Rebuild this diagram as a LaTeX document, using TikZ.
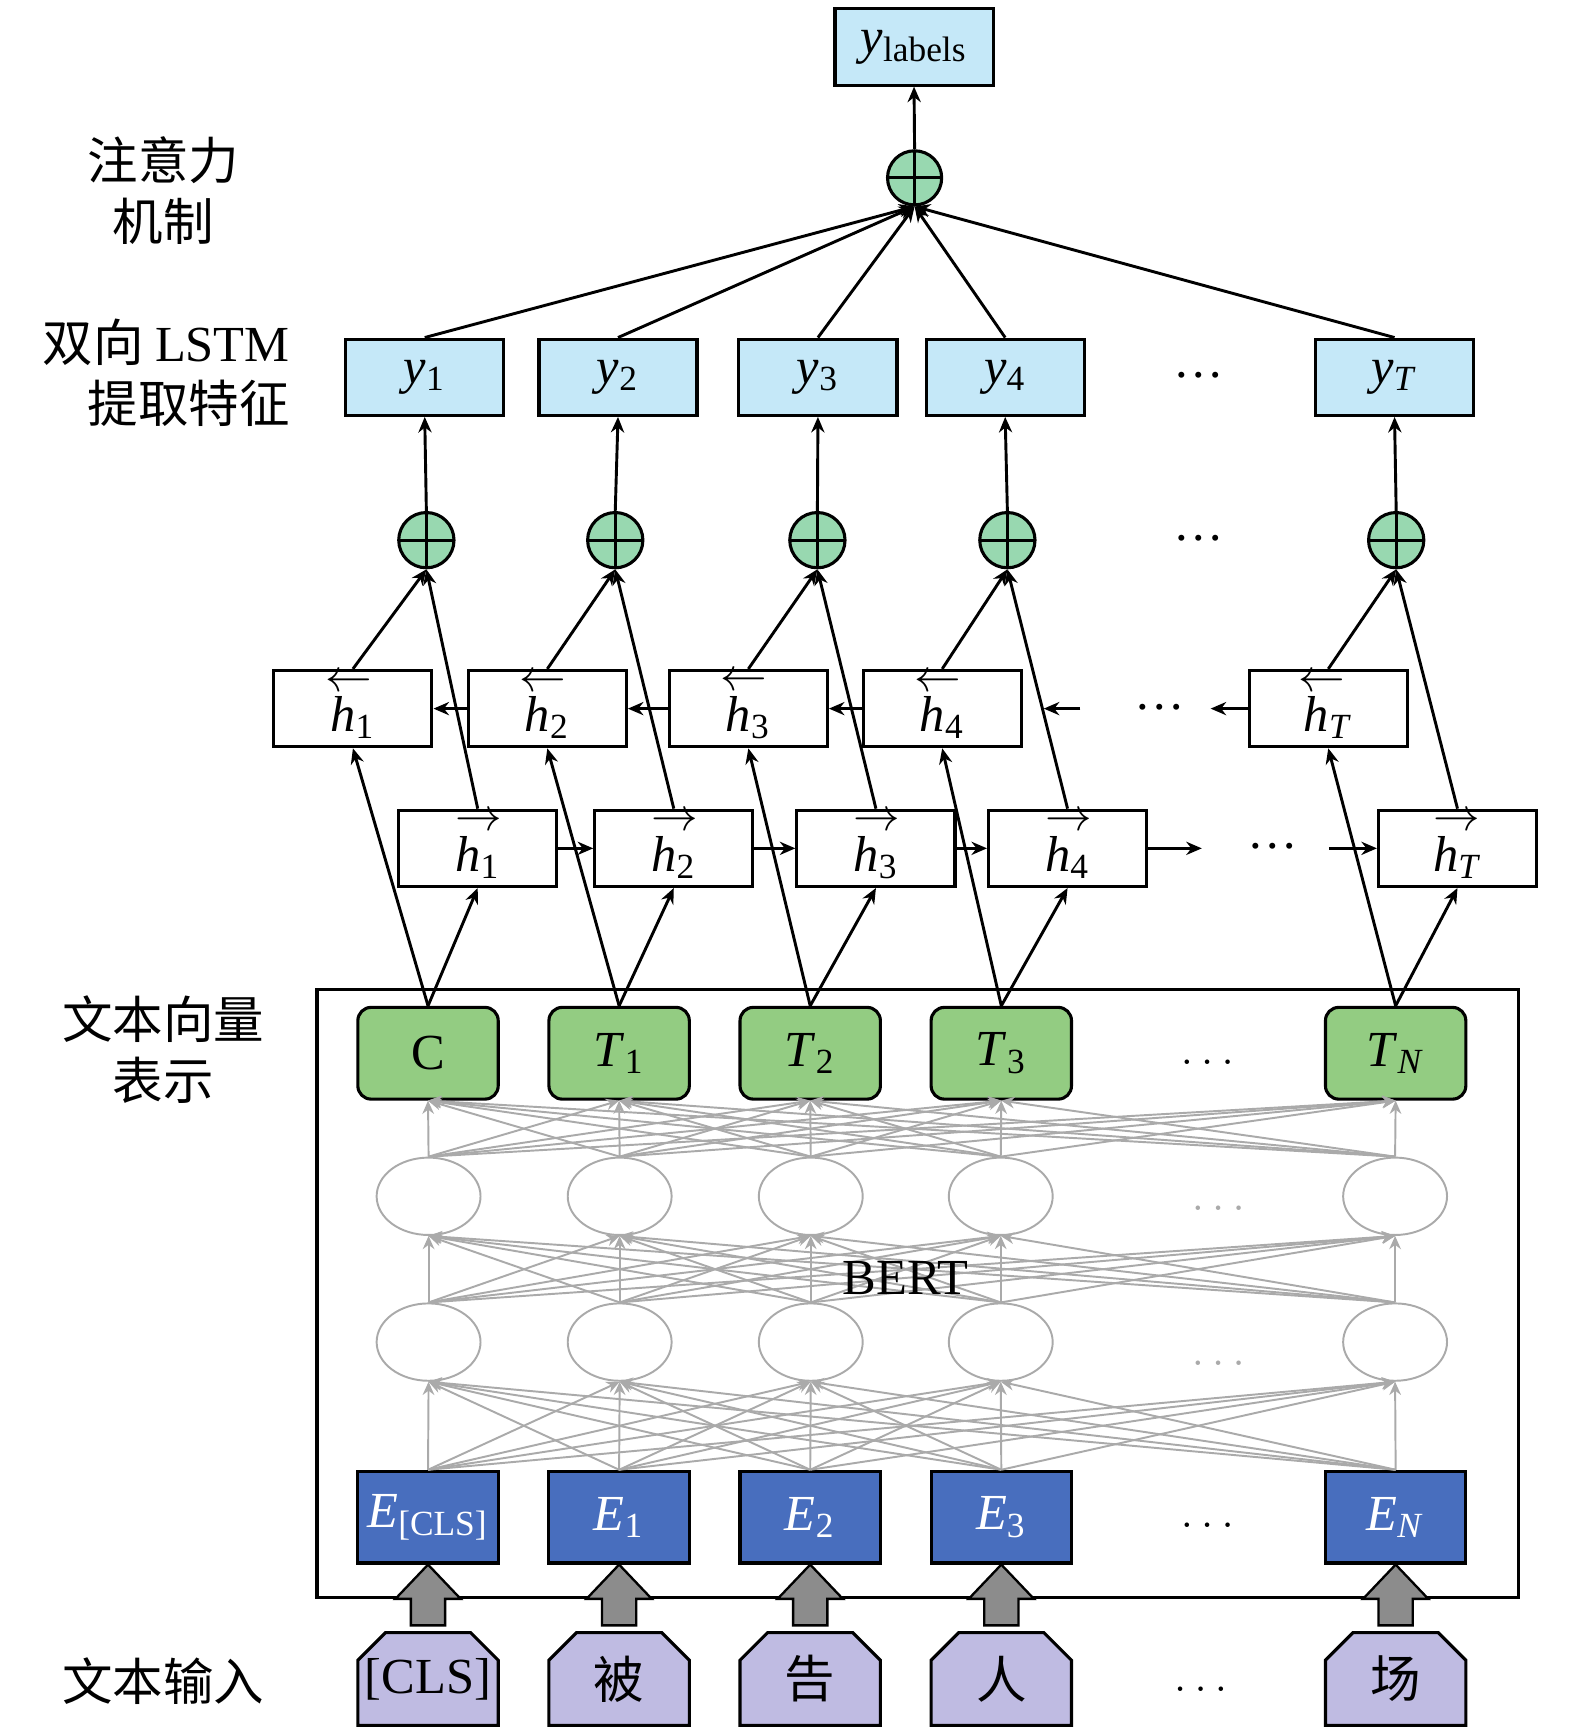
\documentclass[tikz,border=0pt]{standalone}
\usepackage{fontspec}
\setmainfont{Liberation Serif}
\newfontfamily\cjk{Noto Sans CJK SC}
\usetikzlibrary{arrows.meta,shapes.geometric,shapes.misc,calc}

\definecolor{ylblue}{RGB}{197,232,248}
\definecolor{opgreen}{RGB}{152,216,176}
\definecolor{tgreen}{RGB}{147,204,130}
\definecolor{eblue}{RGB}{72,110,190}
\definecolor{inlav}{RGB}{191,187,226}
\definecolor{nngray}{RGB}{170,170,170}
\definecolor{fatgray}{RGB}{140,140,140}

\newcommand{\vsub}[2]{\textit{#1}\textsubscript{#2}}
\newcommand{\hfw}[1]{\rlap{\raisebox{0.8em}[1.05em][0pt]{$\rightarrow$}}\vsub{h}{#1}}
\newcommand{\hbw}[1]{\rlap{\kern-0.1em\raisebox{0.8em}[1.05em][0pt]{$\leftarrow$}}\vsub{h}{#1}}

\tikzset{
  txt/.style={font=\fontsize{13}{15.6}\selectfont},
  lbl/.style={font=\cjk\fontsize{13}{15.6}\selectfont, align=center, inner sep=0pt},
  ybox/.style={txt, draw, line width=0.8pt, fill=ylblue, minimum width=1.43cm, minimum height=0.69cm, inner sep=0pt},
  hbox/.style={txt, draw, line width=0.8pt, fill=white, minimum width=1.43cm, minimum height=0.69cm, inner sep=0pt},
  tbox/.style={txt, draw, line width=0.8pt, fill=tgreen, rounded corners=0.12cm, minimum width=1.27cm, minimum height=0.83cm, inner sep=0pt},
  ebox/.style={txt, draw, line width=0.8pt, fill=eblue, text=white, minimum width=1.27cm, minimum height=0.83cm, inner sep=0pt},
  inbox/.style={txt, draw, line width=0.8pt, fill=inlav, chamfered rectangle, chamfered rectangle corners={north west,north east}, chamfered rectangle xsep=0.11cm, chamfered rectangle ysep=0.14cm, minimum width=1.27cm, minimum height=0.84cm, inner sep=0pt},
  oplus/.style={circle, draw, line width=0.8pt, fill=opgreen, minimum size=0.5cm, inner sep=0pt,
    path picture={\draw[line width=0.8pt] (path picture bounding box.north) -- (path picture bounding box.south)
      (path picture bounding box.west) -- (path picture bounding box.east);}},
  neuron/.style={ellipse, draw=nngray, line width=0.5pt, minimum width=0.94cm, minimum height=0.70cm},
  arr/.style={-{Stealth[length=4pt,width=3.4pt]}, line width=0.75pt},
  nnarr/.style={-{Stealth[length=3.4pt,width=3pt]}, draw=nngray, line width=0.5pt},
  fatarrow/.style={draw, line width=0.6pt, fill=fatgray},
}

\begin{document}
\begin{tikzpicture}[x=0.01cm,y=-0.01cm]
  \useasboundingbox (0,0) rectangle (1426,1568);

  % left side captions
  \node[lbl] (l-att) at (148,172.5) {注意力\\机制};
  \node[lbl, align=right, anchor=east] (l-lstm) at (263,337.5) {双向 {\rmfamily LSTM}\\提取特征};
  \node[lbl] (l-vec) at (148,950) {文本向量\\表示};
  \node[lbl] (l-in) at (148,1522) {文本输入};

  % attention and outputs
  \node[ybox] (ylab) at (827.5,42.5) {\vsub{y}{labels}};
  \node[oplus, minimum size=0.49cm] (att) at (828,161) {};
  \foreach \i/\x/\s in {1/384.5/1,2/559.5/2,3/740.5/3,4/910/4,5/1262.5/{\textit{T}}}
    \node[ybox] (y\i) at (\x,341.5) {\vsub{y}{\s}};
  \foreach \i/\x in {1/386,2/557,3/740,4/912,5/1264}
    \node[oplus] (s\i) at (\x,489) {};

  % BiLSTM
  \foreach \i/\x/\s in {1/319.5/1,2/495.5/2,3/677.5/3,4/853/4,5/1202.5/{\textit{T}}}
    \node[hbox] (hb\i) at (\x,641.5) {\hbw{\s}};
  \foreach \i/\x/\s in {1/432.5/1,2/610/2,3/793/3,4/966.5/4,5/1319.5/{\textit{T}}}
    \node[hbox] (hf\i) at (\x,768) {\hfw{\s}};

  % BERT
  \draw[line width=0.8pt] (287,896) rectangle (1375,1446);
  \foreach \i/\x/\s in {1/387.5/{C},2/560.5/{\vsub{T}{1}},3/733.5/{\vsub{T}{2}},4/906.5/{\vsub{T}{3}},5/1263.5/{\vsub{T}{\textit{N}}}}
    \node[tbox] (t\i) at (\x,953.5) {\s};
  \foreach \i/\x in {1/388,2/561,3/734,4/906,5/1263} {
    \node[neuron] (n1\i) at (\x,1083) {};
    \node[neuron] (n2\i) at (\x,1215) {};
  }
  \foreach \i/\x/\s in {1/387.5/{[CLS]},2/560.5/1,3/733.5/2,4/906.5/3,5/1263.5/{\textit{N}}}
    \node[ebox] (e\i) at (\x,1373.5) {\vsub{E}{\s}};

  % inputs
  \node[inbox, inner xsep=-0.07cm] (in1) at (387.5,1520) {[CLS]};
  \node[inbox] (in2) at (560.5,1520) {\cjk 被};
  \node[inbox] (in3) at (733.5,1520) {\cjk 告};
  \node[inbox] (in4) at (906.5,1520) {\cjk 人};
  \node[inbox] (in5) at (1263.5,1520) {\cjk 场};

  % dots
  \node[txt] (ydots) at (1085,340) {…};
  \node[txt] (sdots) at (1085,487) {…};
  \node[txt] (hbdots) at (1050,640) {…};
  \node[txt] (hfdots) at (1152,766) {…};
  \node[txt] (tdots) at (1093,962) {$\ldots$};
  \node[txt] (edots) at (1093,1381) {$\ldots$};
  \node[txt] (indots) at (1087,1529) {$\ldots$};
  \node[txt, text=nngray] (n1dots) at (1103,1094) {$\ldots$};
  \node[txt, text=nngray] (n2dots) at (1103,1234) {$\ldots$};

  % gray BERT connections
  \foreach \i in {1,...,5}
    \foreach \j in {1,...,5} {
      \draw[nnarr] (e\i.north) -- (n2\j.south);
      \draw[nnarr] (n2\i.north) -- (n1\j.south);
      \draw[nnarr] (n1\i.north) -- (t\j.south);
    }
  \node[txt] (bert) at (820,1157) {BERT};

  % input arrows
  \foreach \i in {1,...,5}
    \draw[fatarrow] (e\i.south) -- ++(29.5,31) -- ++(-14,0) -- ++(0,24) -- ++(-31,0)
      -- ++(0,-24) -- ++(-14,0) -- cycle;

  % BiLSTM connections
  \foreach \i in {1,...,5} {
    \draw[arr] (t\i.north) -- (hb\i.south);
    \draw[arr] (t\i.north) -- (hf\i.south);
    \draw[arr] (hb\i.north) -- (s\i.south);
    \draw[arr] (hf\i.north) -- (s\i.south);
    \draw[arr] (s\i.north) -- (y\i.south);
    \draw[arr] (y\i.north) -- (att.south);
  }
  \foreach \i/\j in {1/2,2/3,3/4} {
    \draw[arr] (hf\i.east) -- (hf\j.west);
    \draw[arr] (hb\j.west) -- (hb\i.east);
  }
  \coordinate (hfout) at (1088,768);
  \coordinate (hfin) at (1203,768);
  \coordinate (hbin) at (978,641.5);
  \coordinate (hbout) at (1096,641.5);
  \draw[arr] (hf4.east) -- (hfout);
  \draw[arr] (hfin) -- (hf5.west);
  \draw[arr, shorten >=0.19cm] (hbin) -- (hb4.east);
  \draw[arr] (hb5.west) -- (hbout);
  \draw[arr] (att.north) -- (ylab.south);
\end{tikzpicture}
\end{document}
